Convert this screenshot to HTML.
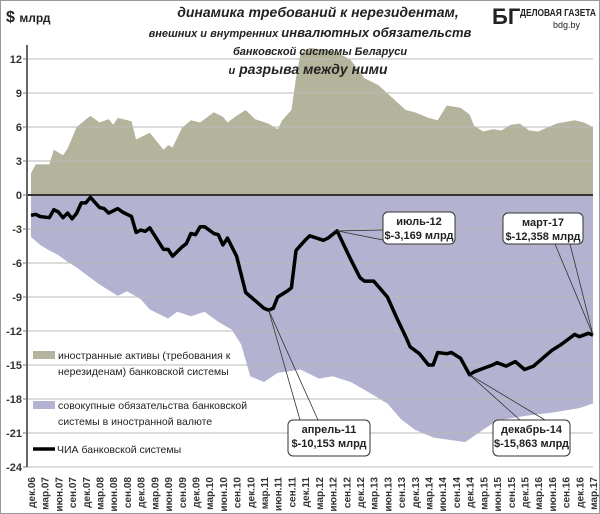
<!DOCTYPE html>
<html><head><meta charset="utf-8"><style>
html,body{margin:0;padding:0;background:#fff}
svg{display:block}
text{font-family:"Liberation Sans","DejaVu Sans",sans-serif}
</style></head><body>
<svg id="chart" width="600" height="514" viewBox="0 0 600 514" xmlns="http://www.w3.org/2000/svg">
<rect x="0.5" y="0.5" width="599" height="513" fill="#fff" stroke="#999"/>
<g id="grid"></g>
<g id="areas"></g>
<g id="gridTop"></g>
<g id="lines"></g>
<g id="yticks"></g>
<g id="xticks"></g>
<text x="6" y="22" font-size="16" font-weight="bold" fill="#222">$ <tspan font-size="12">млрд</tspan></text>
<g font-style="italic" font-weight="bold" fill="#222" text-anchor="middle">
<text x="318" y="17" font-size="14">динамика  требований к нерезидентам,</text>
<text x="310" y="37" font-size="11">внешних и внутренних <tspan font-size="13">инвалютных обязательств</tspan></text>
<text x="320" y="55" font-size="11">банковской системы Беларуси</text>
<text x="308" y="74" font-size="14"><tspan font-size="11">и</tspan> разрыва между ними</text>
</g>
<g>
<text x="492" y="24" font-size="22" font-weight="bold" font-family="Liberation Serif" fill="#222">БГ</text>
<text x="520" y="16" font-size="10" font-weight="bold" font-family="Liberation Serif" fill="#222" textLength="76" lengthAdjust="spacingAndGlyphs">ДЕЛОВАЯ ГАЗЕТА</text>
<text x="553" y="28" font-size="9" font-family="Liberation Serif" fill="#222">bdg.by</text>
</g>
<g font-size="10.5" fill="#222">
<rect x="33" y="351" width="22" height="8" fill="#b4b49c"/>
<text x="58" y="359">иностранные  активы  (требования  к</text>
<text x="58" y="375">нерезиденам) банковской  системы</text>
<rect x="33" y="401" width="22" height="8" fill="#b3b3d1"/>
<text x="58" y="409">совокупные  обязательства  банковской</text>
<text x="58" y="425">системы  в иностранной  валюте</text>
<line x1="33" y1="449" x2="55" y2="449" stroke="#000" stroke-width="3.5"/>
<text x="57" y="453">ЧИА банковской  системы</text>
</g>
<g id="notes"></g>
</svg>
<script>
// Foreign assets (claims on non-residents), $ bn — month index from Dec-06
const assetMonths = [0,1,4,5,7,8,10,13,15,17,18,19,22,23,26,29,30,31,33,35,37,40,42,43,45,47,49,52,54,55,57,58,59,61,64,67,70,73,76,79,82,84,87,89,91,94,96,97,99,101,103,105,107,109,111,115,119,121,123];
const assetValues = [1.9,2.7,2.7,4.0,3.5,4.1,6.0,7.0,6.4,6.7,6.2,6.8,6.5,4.9,5.5,4.0,4.4,4.2,5.9,6.6,6.4,7.3,6.9,6.4,7.0,7.5,6.7,6.3,5.8,6.6,7.5,10.3,12.5,13.0,12.8,12.6,11.9,10.3,9.7,8.6,7.5,7.3,6.8,6.6,7.9,7.7,7.1,6.1,5.6,5.8,5.7,6.2,6.3,5.7,5.6,6.3,6.6,6.4,6.0];
// Total FX liabilities, $ bn (negative)
const liabMonths = [0,2,4,6,8,10,13,15,17,19,21,24,26,28,30,32,35,38,41,44,46,48,51,54,59,63,66,70,73,78,81,84,88,95,99,102,108,114,120,123];
const liabValues = [-3.7,-4.4,-4.9,-5.3,-5.9,-6.4,-7.3,-7.9,-8.4,-8.9,-8.5,-9.2,-10.1,-10.5,-10.9,-10.3,-10.7,-10.3,-11.2,-11.9,-13.2,-16.0,-16.5,-15.7,-15.4,-16.2,-16.0,-16.5,-17.2,-18.4,-19.8,-20.7,-21.4,-21.8,-20.7,-19.9,-19.5,-19.2,-18.8,-18.4];
// Net foreign assets (ЧИА), $ bn
const nfaMonths = [0,1,2,4,5,6,7,8,9,10,11,12,13,15,16,17,19,20,22,23,24,25,26,29,30,31,33,34,35,36,37,38,40,41,42,43,45,47,49,51,52,53,54,56,57,58,60,61,64,65,67,70,72,73,75,78,80,82,83,85,87,88,89,91,92,94,96,97,99,101,102,104,106,108,110,112,114,116,119,120,122,123];
const nfaValues = [-1.8,-1.7,-1.9,-2.0,-1.3,-1.5,-2.0,-1.6,-2.1,-1.6,-0.7,-0.7,-0.2,-1.1,-1.2,-1.6,-1.2,-1.5,-1.9,-3.3,-3.1,-3.2,-2.9,-4.8,-4.8,-5.4,-4.6,-4.3,-3.4,-3.5,-2.8,-2.8,-3.4,-3.5,-4.4,-3.8,-5.4,-8.6,-9.3,-10.0,-10.153,-10.0,-9.0,-8.5,-8.2,-4.9,-4.0,-3.6,-4.0,-3.8,-3.169,-5.7,-7.3,-7.6,-7.6,-9.0,-10.8,-12.5,-13.4,-14.0,-15.0,-15.0,-13.9,-14.0,-13.9,-14.4,-15.863,-15.6,-15.3,-15.0,-14.8,-15.1,-14.7,-15.4,-15.1,-14.4,-13.7,-13.2,-12.3,-12.5,-12.2,-12.358];
const yTicks = [12,9,6,3,0,-3,-6,-9,-12,-15,-18,-21,-24];
const xLabels = ["дек.06","мар.07","июн.07","сен.07","дек.07","мар.08","июн.08","сен.08","дек.08","мар.09","июн.09","сен.09","дек.09","мар.10","июн.10","сен.10","дек.10","мар.11","июн.11","сен.11","дек.11","мар.12","июн.12","сен.12","дек.12","мар.13","июн.13","сен.13","дек.13","мар.14","июн.14","сен.14","дек.14","мар.15","июн.15","сен.15","дек.15","мар.16","июн.16","сен.16","дек.16","мар.17"];
const noteMonths = [52,67,96,123];
const noteValues = [-10.153,-3.169,-15.863,-12.358];
const noteTitles = ["апрель-11","июль-12","декабрь-14","март-17"];
const noteTexts = ["$-10,153 млрд","$-3,169 млрд","$-15,863 млрд","$-12,358 млрд"];

const NS="http://www.w3.org/2000/svg";
const X0=31, XW=562, NM=123;
function xs(m){return X0+m*XW/NM;}
function ys(v){return 195-v*(136/12);}
function mk(tag,attrs,parent){const e=document.createElementNS(NS,tag);for(const k in attrs)e.setAttribute(k,attrs[k]);parent.appendChild(e);return e;}
const g=id=>document.getElementById(id);

yTicks.forEach(t=>{
  const l=mk('line',{x1:27,x2:593,y1:ys(t),y2:ys(t),stroke:'#b8b8b8','stroke-width':1},g('gridTop'));
  
  
  const tx=mk('text',{x:22,y:ys(t)+4,'font-size':11,'text-anchor':'end',fill:'#333','font-weight':'bold'},g('yticks'));
  tx.textContent=String(t);
  
  
  mk('line',{x1:23,x2:27,y1:ys(t),y2:ys(t),stroke:'#777'},g('yticks'));
});
function areaPath(ms,vs){let d='M'+xs(ms[0])+','+ys(0);ms.forEach((m,i)=>{d+=' L'+xs(m).toFixed(1)+','+ys(vs[i]).toFixed(1);});d+=' L'+xs(ms[ms.length-1])+','+ys(0)+' Z';return d;}
const a1=mk('path',{d:areaPath(assetMonths,assetValues),fill:'#b4b49c'},g('areas'));


const a2=mk('path',{d:areaPath(liabMonths,liabValues),fill:'#b3b3d1'},g('areas'));


mk('line',{x1:27,x2:593,y1:ys(0),y2:ys(0),stroke:'#333','stroke-width':2},g('lines'));
const ax=mk('line',{x1:27,x2:27,y1:45,y2:ys(-24),stroke:'#666','stroke-width':2},g('lines'));


let d='';nfaMonths.forEach((m,i)=>{d+=(i?' L':'M')+xs(m).toFixed(1)+','+ys(nfaValues[i]).toFixed(1);});
const nl=mk('path',{d:d,fill:'none',stroke:'#000','stroke-width':3.5,'stroke-linejoin':'round'},g('lines'));


xLabels.forEach((lab,i)=>{
  const x=xs(i*3)+4;
  const t=mk('text',{x:0,y:0,'font-size':10,'font-weight':'bold','text-anchor':'end',fill:'#333',transform:`translate(${x.toFixed(1)},477) rotate(-90)`},g('xticks'));
  t.textContent=lab;
  
  
});
const boxes=[[288,420,82,36],[383,212,72,32],[493,420,77,36],[503,213,80,31]];
const leadX=[[300,318],[383,383],[520,545],[555,570]];
noteMonths.forEach((m,i)=>{
  const px=xs(m),py=ys(noteValues[i]);const b=boxes[i];
  const top=(i===0||i===2);
  const ly1= i===1? b[1]+18 : (top? b[1] : b[1]+b[3]);
  const ly2= i===1? b[1]+28 : ly1;
  mk('line',{x1:px,y1:py,x2:leadX[i][0],y2:ly1,stroke:'#333','stroke-width':0.8},g('notes'));
  mk('line',{x1:px,y1:py,x2:leadX[i][1],y2:ly2,stroke:'#333','stroke-width':0.8},g('notes'));
  const r=mk('rect',{x:b[0],y:b[1],width:b[2],height:b[3],rx:5,fill:'#fff',stroke:'#333','stroke-width':1},g('notes'));
  
  
  const t1=mk('text',{x:b[0]+b[2]/2,y:b[1]+13,'font-size':11,'font-weight':'bold','text-anchor':'middle',fill:'#222'},g('notes'));
  t1.textContent=noteTitles[i];
  
  
  const t2=mk('text',{x:b[0]+b[2]/2,y:b[1]+27,'font-size':11,'font-weight':'bold','text-anchor':'middle',fill:'#222'},g('notes'));
  t2.textContent=noteTexts[i];
  
  
});
</script>
</body></html>
